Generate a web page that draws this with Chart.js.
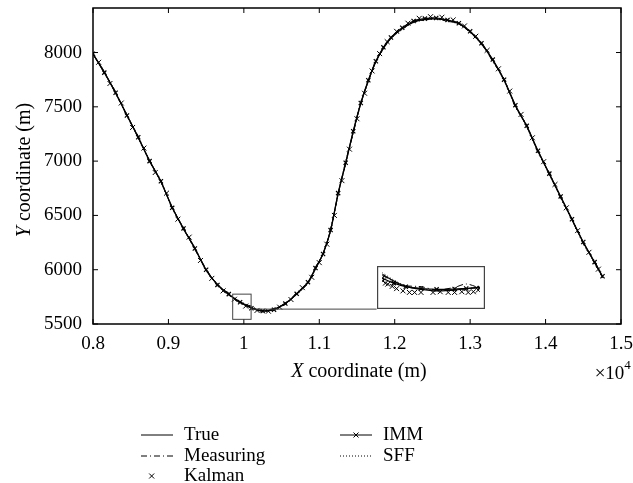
<!DOCTYPE html>
<html>
<head>
<meta charset="utf-8">
<script src="https://cdn.jsdelivr.net/npm/chart.js@4.4.0/dist/chart.umd.min.js"></script>
<style>
  html, body { margin: 0; padding: 0; background: #fff; }
  #wrap { position: relative; width: 633px; height: 483px; }
  #mainChart { position: absolute; left: 0; top: 0; }
  #insetChart { position: absolute; }
</style>
</head>
<body>
<div id="wrap">
  <canvas id="mainChart" width="633" height="483"></canvas>
  <canvas id="insetChart" width="108" height="43"></canvas>
</div>
<script>
// Track data (metres)
const xCoord = [8000,8150,8300,8450,8600,8750,8900,9050,9200,9350,9500,9650,9800,9950,10100,10250,10400,10550,10700,10850,
  10950,11050,11150,11250,11350,11450,11550,11650,11750,11850,11950,12100,12250,12400,12550,12700,12850,13000,13150,13300,
  13450,13600,13750,13900,14050,14200,14350,14500,14650,14755];
const trueY = [7985,7820,7625,7425,7215,7005,6810,6575,6375,6200,5995,5865,5770,5705,5650,5622,5635,5690,5775,5880,
  6010,6150,6360,6700,6980,7270,7530,7740,7915,8040,8130,8220,8280,8305,8310,8295,8265,8190,8080,7930,
  7745,7510,7320,7090,6880,6670,6460,6250,6065,5935];
const measY = [7990,7810,7640,7410,7230,6990,6825,6560,6390,6185,6010,5850,5785,5690,5665,5610,5645,5680,5790,5870,
  6025,6140,6380,6690,7000,7255,7545,7730,7930,8030,8145,8210,8295,8300,8320,8285,8275,8180,8095,7915,
  7760,7495,7335,7075,6895,6655,6475,6235,6080,5925];
const immY = [7988,7815,7630,7420,7220,7000,6815,6570,6380,6195,6000,5860,5775,5700,5645,5620,5632,5688,5778,5885,
  6015,6145,6365,6705,6985,7275,7535,7745,7920,8048,8138,8228,8290,8312,8318,8300,8270,8195,8085,7935,
  7750,7515,7325,7095,6885,6675,6465,6255,6070,5940];
const sffY = [7982,7825,7620,7430,7210,7010,6805,6580,6370,6205,5990,5870,5765,5710,5655,5625,5638,5695,5770,5875,
  6005,6155,6355,6695,6975,7265,7525,7735,7910,8035,8125,8215,8275,8300,8305,8290,8260,8185,8075,7925,
  7740,7505,7315,7085,6875,6665,6455,6245,6060,5930];
const kalmanX = [8075,8225,8375,8525,8675,8825,8975,9125,9275,9425,9575,9725,9875,10025,10175,10325,10475,10625,10775,10900,
  11000,11100,11200,11300,11400,11500,11600,11700,11800,11900,12025,12175,12325,12475,12625,12775,12925,13075,13225,13375,
  13525,13675,13825,13975,14125,14275,14425,14575,14700];
const kalmanY = [7910,7715,7535,7310,7120,6895,6705,6465,6300,6085,5920,5805,5728,5665,5625,5618,5655,5725,5835,5930,
  6065,6235,6500,6820,7110,7390,7625,7830,7990,8100,8195,8270,8315,8330,8325,8300,8245,8150,8020,7850,
  7645,7430,7215,6995,6785,6570,6360,6160,6005];

// Magnified inset (region around x = 1e4)
const insetX = [9852,9881,9911,9949,9988,10033,10062,10096];
const insetTrueY = [5753,5705,5667,5646,5635,5640,5651,5662];
const insetMeasY = [5745,5702,5672,5665,5642,5660,5684,5655];
const insetImmY = [5726,5690,5665,5652,5646,5648,5652,5656];
const insetSffY = [5764,5712,5672,5650,5640,5642,5648,5668];
const insetKalmanX = [9854,9860,9866,9877,9888,9904,9920,9933,9949,9979,9997,10017,10033,10051,10067,10080,10092];
const insetKalmanY = [5705,5690,5683,5667,5651,5635,5624,5624,5624,5624,5629,5624,5624,5629,5624,5629,5640];

const seriesNames = ['True', 'Measuring', 'Kalman', 'IMM', 'SFF'];
const xTicks = [8000, 9000, 10000, 11000, 12000, 13000, 14000, 15000];
const yTicks = [5500, 6000, 6500, 7000, 7500, 8000];

const zoomBox = [9852, 10096, 5543, 5775];   // x0, x1, y0, y1
const insetArea = [11760, 13190, 5637, 6036];

const FONT = "'Liberation Serif', 'DejaVu Serif', serif";
Chart.defaults.font.family = FONT;
Chart.defaults.color = '#000';

const pts = (xs, ys) => xs.map((v, i) => ({ x: v, y: ys[i] }));

function makeSets(x, tY, mY, kx, kY, iY, sY, mark) {
  return [
    { label: seriesNames[0], data: pts(x, tY), showLine: true, borderColor: '#000', borderWidth: 1.2, pointRadius: 0, kind: 'line' },
    { label: seriesNames[1], data: pts(x, mY), showLine: true, borderColor: '#000', borderWidth: 1, borderDash: [6, 3, 1, 3], pointRadius: 0, kind: 'dashdot' },
    { label: seriesNames[2], data: pts(kx, kY), showLine: false, borderColor: '#000', backgroundColor: '#000', borderWidth: 1, pointStyle: 'crossRot', pointRadius: mark, kind: 'marker' },
    { label: seriesNames[3], data: pts(x, iY), showLine: true, borderColor: '#000', backgroundColor: '#000', borderWidth: 1.2, pointStyle: 'crossRot', pointRadius: mark * 0.85, kind: 'linemarker' },
    { label: seriesNames[4], data: pts(x, sY), showLine: true, borderColor: '#000', borderWidth: 1, borderDash: [1, 2], pointRadius: 0, kind: 'dotted' }
  ];
}

function drawX(ctx, cx, cy, r) {
  ctx.beginPath();
  ctx.moveTo(cx - r, cy - r); ctx.lineTo(cx + r, cy + r);
  ctx.moveTo(cx - r, cy + r); ctx.lineTo(cx + r, cy - r);
  ctx.stroke();
}

function drawMixed(ctx, parts, cx, cy, size) {
  let total = 0;
  parts.forEach(p => { ctx.font = (p.it ? 'italic ' : '') + size + 'px ' + FONT; p.w = ctx.measureText(p.t).width; total += p.w; });
  let x = cx - total / 2;
  parts.forEach(p => { ctx.font = (p.it ? 'italic ' : '') + size + 'px ' + FONT; ctx.fillText(p.t, x, cy); x += p.w; });
}

const frame = {
  id: 'frame',
  afterDraw(chart) {
    const { ctx, chartArea: a, scales: { x, y } } = chart;
    ctx.save();
    ctx.strokeStyle = '#000';
    ctx.lineWidth = 1.5;
    ctx.strokeRect(a.left, a.top, a.right - a.left, a.bottom - a.top);
    ctx.lineWidth = 1;
    ctx.beginPath();
    x.ticks.forEach(t => {
      const px = x.getPixelForValue(t.value);
      ctx.moveTo(px, a.bottom); ctx.lineTo(px, a.bottom - 5);
      ctx.moveTo(px, a.top); ctx.lineTo(px, a.top + 5);
    });
    y.ticks.forEach(t => {
      const py = y.getPixelForValue(t.value);
      ctx.moveTo(a.left, py); ctx.lineTo(a.left + 5, py);
      ctx.moveTo(a.right, py); ctx.lineTo(a.right - 5, py);
    });
    ctx.stroke();

    // zoom box + connector to inset
    const bx0 = x.getPixelForValue(zoomBox[0]), bx1 = x.getPixelForValue(zoomBox[1]);
    const by0 = y.getPixelForValue(zoomBox[3]), by1 = y.getPixelForValue(zoomBox[2]);
    ctx.strokeStyle = '#444';
    ctx.strokeRect(bx0, by0, bx1 - bx0, by1 - by0);
    const cy = y.getPixelForValue(insetArea[2]);
    ctx.beginPath();
    ctx.moveTo(bx1, cy); ctx.lineTo(x.getPixelForValue(insetArea[0]), cy);
    ctx.stroke();

    // axis titles
    ctx.fillStyle = '#000';
    ctx.textBaseline = 'middle';
    ctx.textAlign = 'left';
    drawMixed(ctx, [{ t: 'X', it: true }, { t: ' coordinate (m)' }], 359, 372, 20);
    ctx.save();
    ctx.translate(25, (a.top + a.bottom) / 2 + 4);
    ctx.rotate(-Math.PI / 2);
    drawMixed(ctx, [{ t: 'Y', it: true }, { t: ' coordinate (m)' }], 0, 0, 20);
    ctx.restore();
    ctx.font = '19px ' + FONT;
    ctx.textAlign = 'right';
    const w4 = ctx.measureText('4').width * 0.7;
    ctx.fillText('\u00d710', 631 - w4, 374);
    ctx.font = '13px ' + FONT;
    ctx.textAlign = 'left';
    ctx.fillText('4', 631 - w4, 366);

    // legend
    const slots = [[0, 0], [0, 1], [0, 2], [1, 0], [1, 1]];
    const colX = [141, 340], rowY = [435, 456, 476], sw = 32;
    chart.data.datasets.forEach((ds, i) => {
      const lx = colX[slots[i][0]], ly = rowY[slots[i][1]];
      ctx.strokeStyle = '#000';
      ctx.lineWidth = 1;
      ctx.setLineDash(ds.borderDash || []);
      if (ds.kind !== 'marker') {
        ctx.beginPath(); ctx.moveTo(lx, ly); ctx.lineTo(lx + sw, ly); ctx.stroke();
      }
      ctx.setLineDash([]);
      if (ds.kind === 'marker') drawX(ctx, lx + sw / 3, ly, 2.5);
      if (ds.kind === 'linemarker') drawX(ctx, lx + sw / 2, ly, 2.5);
      ctx.font = '19px ' + FONT;
      ctx.fillStyle = '#000';
      ctx.textAlign = 'left';
      ctx.fillText(ds.label, lx + sw + 11, ly);
    });
    ctx.restore();
  }
};

const mainChart = new Chart(document.getElementById('mainChart'), {
  type: 'scatter',
  data: { datasets: makeSets(xCoord, trueY, measY, kalmanX, kalmanY, immY, sffY, 3.5) },
  options: {
    responsive: false,
    animation: false,
    layout: { padding: { top: 8, right: 12, left: 0, bottom: 0 } },
    plugins: { legend: { display: false }, tooltip: { enabled: false } },
    elements: { line: { tension: 0.25 } },
    scales: {
      x: {
        type: 'linear', min: 8000, max: 15000,
        afterBuildTicks: s => { s.ticks = xTicks.map(v => ({ value: v })); },
        afterFit: s => { s.height = 159; s.paddingLeft = 0; s.paddingRight = 0; },
        grid: { display: false, drawTicks: false },
        border: { display: false },
        ticks: { padding: 9, font: { size: 19 }, color: '#000', callback: v => String(+(v / 10000).toFixed(1)) }
      },
      y: {
        type: 'linear', min: 5500, max: 8410,
        afterBuildTicks: s => { s.ticks = yTicks.map(v => ({ value: v })); },
        afterFit: s => { s.width = 93; s.paddingTop = 0; s.paddingBottom = 0; },
        grid: { display: false, drawTicks: false },
        border: { display: false },
        ticks: { padding: 11, font: { size: 19 }, color: '#000', callback: v => String(v) }
      }
    }
  },
  plugins: [frame]
});

// place the inset over its area of the main plot
const sx = mainChart.scales.x, sy = mainChart.scales.y;
const il = sx.getPixelForValue(insetArea[0]), ir = sx.getPixelForValue(insetArea[1]);
const it = sy.getPixelForValue(insetArea[3]), ib = sy.getPixelForValue(insetArea[2]);
const insetCanvas = document.getElementById('insetChart');
insetCanvas.width = Math.round(ir - il);
insetCanvas.height = Math.round(ib - it);
insetCanvas.style.left = Math.round(il) + 'px';
insetCanvas.style.top = Math.round(it) + 'px';

const insetBorder = {
  id: 'insetBorder',
  afterDraw(chart) {
    const { ctx, width, height } = chart;
    ctx.save();
    ctx.strokeStyle = '#444';
    ctx.lineWidth = 1.2;
    ctx.strokeRect(0.6, 0.6, width - 1.2, height - 1.2);
    ctx.restore();
  }
};

new Chart(insetCanvas, {
  type: 'scatter',
  data: { datasets: makeSets(insetX, insetTrueY, insetMeasY, insetKalmanX, insetKalmanY, insetImmY, insetSffY, 3.5) },
  options: {
    responsive: false,
    animation: false,
    layout: { padding: 0 },
    plugins: { legend: { display: false }, tooltip: { enabled: false } },
    elements: { line: { tension: 0.3 } },
    scales: {
      x: { type: 'linear', display: false, min: zoomBox[0], max: zoomBox[1] },
      y: { type: 'linear', display: false, min: zoomBox[2], max: zoomBox[3] }
    }
  },
  plugins: [insetBorder]
});
</script>
</body>
</html>
